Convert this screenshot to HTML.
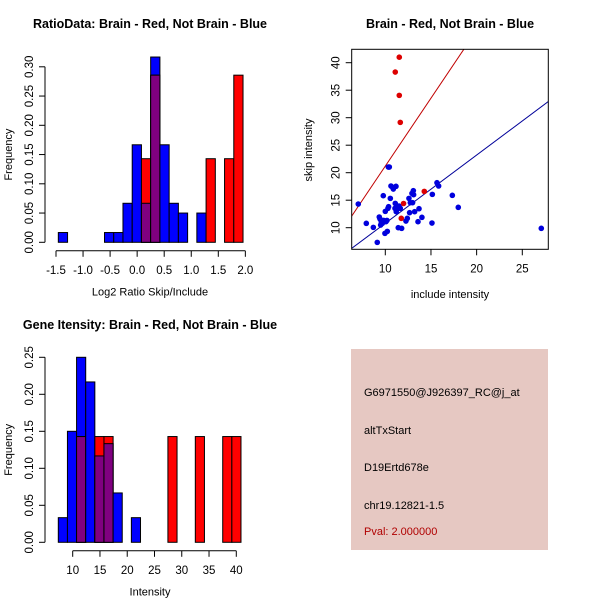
<!DOCTYPE html>
<html><head><meta charset="utf-8"><style>
body{margin:0;background:#fff}
svg{display:block;font-family:"Liberation Sans",sans-serif}
</style></head><body>
<svg id="c" width="600" height="600" viewBox="0 0 600 600">
<rect width="600" height="600" fill="#fff"/>
<text x="150" y="28" text-anchor="middle" font-size="12.5" font-weight="bold">RatioData: Brain - Red, Not Brain - Blue</text>
<text x="450" y="28" text-anchor="middle" font-size="12.5" font-weight="bold">Brain - Red, Not Brain - Blue</text>
<text x="150" y="329" text-anchor="middle" font-size="12.5" font-weight="bold">Gene Itensity: Brain - Red, Not Brain - Blue</text>
<g id="g1"></g>
<g id="g2"></g>
<g id="g3"></g>
<g>
<rect x="351" y="349" width="197" height="201" fill="#e6c8c2"/>
<text x="364" y="396" font-size="11">G6971550@J926397_RC@j_at</text>
<text x="364" y="434" font-size="11">altTxStart</text>
<text x="364" y="471" font-size="11">D19Ertd678e</text>
<text x="364" y="509" font-size="11">chr19.12821-1.5</text>
<text x="364" y="535" font-size="11" fill="#b00000">Pval: 2.000000</text>
</g>
</svg>
<script>
// Ratio histogram data
const ratioBinStart = -1.457, ratioBinWidth = 0.1707;
const ratioBlue = [0.0167,0,0,0,0,0.0167,0.0167,0.0667,0.1667,0.0667,0.3167,0.1667,0.0667,0.05,0,0.05,0,0,0,0];
const ratioRed  = [0,0,0,0,0,0,0,0,0,0.1429,0.2857,0,0,0,0,0,0.1429,0,0.1429,0.2857];
const ratioXTicks = [-1.5,-1.0,-0.5,0.0,0.5,1.0,1.5,2.0];
const ratioYTicks = [0,0.05,0.10,0.15,0.20,0.25,0.30];
// Intensity histogram data
const intBinStart = 7.36, intBinWidth = 1.675;
const intBlue = [0.0333,0.15,0.25,0.2167,0.1167,0.1333,0.0667,0,0.0333,0,0,0,0,0,0,0,0,0,0,0];
const intRed  = [0,0,0.1429,0,0.1429,0.1429,0,0,0,0,0,0,0.1429,0,0,0.1429,0,0,0.1429,0.1429];
const intXTicks = [10,15,20,25,30,35,40];
const intYTicks = [0,0.05,0.10,0.15,0.20,0.25];
// Scatter data
const redX = [11.53,11.09,11.53,11.64,14.27,12.0,11.75];
const redY = [41.0,38.3,34.06,29.15,16.6,14.4,11.7];
const blueX = [7.04,7.92,8.69,9.12,9.34,9.42,9.56,9.49,9.67,9.78,9.82,9.96,10.0,10.07,10.18,10.22,10.29,10.33,10.36,10.44,10.55,10.62,10.80,10.88,11.06,11.09,11.17,11.20,11.35,11.42,11.50,11.64,11.79,12.26,12.41,12.59,12.66,12.74,12.92,12.99,13.07,13.10,13.21,13.58,13.69,14.01,15.11,15.15,15.66,15.84,17.34,17.99,27.08];
const blueY = [14.30,10.79,10.06,7.33,11.94,11.58,11.09,10.48,10.79,15.82,11.33,8.97,12.97,11.09,11.33,9.33,13.52,21.03,13.82,21.03,15.33,17.58,17.33,17.03,13.52,14.42,17.52,12.91,13.52,10.0,13.94,13.52,9.88,11.21,11.70,15.33,12.73,14.55,16.24,14.55,16.73,16.0,12.91,11.09,13.45,11.88,10.85,16.06,18.18,17.58,15.88,13.70,9.88];
const redLine = [-3.5, 2.47];   // intercept, slope
const blueLine = [-1.6, 1.24];
const scXTicks = [10,15,20,25];
const scYTicks = [10,15,20,25,30,35,40];

const NS='http://www.w3.org/2000/svg';
function mk(p,t,a){const e=document.createElementNS(NS,t);for(const k in a)e.setAttribute(k,a[k]);p.appendChild(e);return e;}

function hist(g,o){
  const sx=v=>o.x0+(v-o.xv0)*o.kx, sy=v=>o.y0-v*o.ky;
  for(let i=0;i<o.blue.length;i++){
    const a=o.bs+i*o.bw,b=a+o.bw,x=sx(a),w=sx(b)-x,bl=o.blue[i],rd=o.red[i],m=Math.min(bl,rd);
    if(bl>0){const r=mk(g,'rect',{x:x,y:sy(bl),width:w,height:sy(0)-sy(bl),fill:'#0000ff',stroke:'#000','stroke-width':1});
      
      }
    if(rd>0){const r=mk(g,'rect',{x:x,y:sy(rd),width:w,height:sy(0)-sy(rd),fill:'#ff0000',stroke:'#000','stroke-width':1});
      
      }
    if(m>0){const r=mk(g,'rect',{x:x,y:sy(m),width:w,height:sy(0)-sy(m),fill:'#800080',stroke:'#000','stroke-width':1});
      
      }
  }
  const xl=o.xt, ax=o.y0+8.5;
  const xa=mk(g,'path',{d:`M${sx(xl[0])},${ax}H${sx(xl[xl.length-1])}`,stroke:'#000',fill:'none'});
  
  
  xl.forEach(v=>{mk(g,'path',{d:`M${sx(v)},${ax}v6`,stroke:'#000'});
    const t=mk(g,'text',{x:sx(v),y:ax+23,'text-anchor':'middle','font-size':11.5});t.textContent=o.xf(v);
    
    });
  const yl=o.yt, yx=45;
  const ya=mk(g,'path',{d:`M${yx},${sy(yl[0])}V${sy(yl[yl.length-1])}`,stroke:'#000',fill:'none'});
  
  
  yl.forEach(v=>{mk(g,'path',{d:`M${yx},${sy(v)}h-6`,stroke:'#000'});
    const t=mk(g,'text',{x:0,y:0,'text-anchor':'middle','font-size':11.5,transform:`translate(${yx-12},${sy(v)}) rotate(-90)`});t.textContent=v.toFixed(2);
    
    });
  const t1=mk(g,'text',{x:150,y:o.y0+53,'text-anchor':'middle','font-size':11});t1.textContent=o.xlab;
  
  
  const t2=mk(g,'text',{x:0,y:0,'text-anchor':'middle','font-size':11,transform:`translate(12,${(sy(0)+sy(yl[yl.length-1]))/2}) rotate(-90)`});t2.textContent='Frequency';
  
  
}
hist(document.getElementById('g1'),{x0:56,xv0:-1.5,kx:54.1,y0:242.3,ky:585,bs:ratioBinStart,bw:ratioBinWidth,blue:ratioBlue,red:ratioRed,xt:ratioXTicks,yt:ratioYTicks,xf:v=>v.toFixed(1),xlab:'Log2 Ratio Skip/Include'});
hist(document.getElementById('g3'),{x0:72.7,xv0:10,kx:5.453,y0:542.3,ky:740,bs:intBinStart,bw:intBinWidth,blue:intBlue,red:intRed,xt:intXTicks,yt:intYTicks,xf:v=>String(v),xlab:'Intensity'});

// scatter
(function(){
  const g=document.getElementById('g2');
  const L=351.7,R=548.3,T=49.3,B=249.3;
  const sx=v=>385.3+(v-10)*9.133, sy=v=>227.7-(v-10)*5.5;
  const cp=mk(g,'clipPath',{id:'scClip'});mk(cp,'rect',{x:L,y:T,width:R-L,height:B-T});
  const xmin=(L-385.3)/9.133+10,xmax=(R-385.3)/9.133+10;
  [[redLine,'#c00000','red-fit-line'],[blueLine,'#000099','blue-fit-line']].forEach(([ln,c,n])=>{
    const p=mk(g,'line',{x1:sx(xmin),y1:sy(ln[0]+ln[1]*xmin),x2:sx(xmax),y2:sy(ln[0]+ln[1]*xmax),stroke:c,'stroke-width':1,'clip-path':'url(#scClip)'});
    
    
  });
  blueX.forEach((v,i)=>{const c=mk(g,'circle',{cx:sx(v),cy:sy(blueY[i]),r:2.8,fill:'#0000dd'});
    
    });
  redX.forEach((v,i)=>{const c=mk(g,'circle',{cx:sx(v),cy:sy(redY[i]),r:2.8,fill:'#dd0000'});
    
    });
  const bx=mk(g,'rect',{x:L,y:T,width:R-L,height:B-T,fill:'none',stroke:'#000'});
  
  
  scXTicks.forEach(v=>{mk(g,'path',{d:`M${sx(v)},${B}v6`,stroke:'#000'});
    const t=mk(g,'text',{x:sx(v),y:B+23,'text-anchor':'middle','font-size':11.5});t.textContent=v;
    
    });
  scYTicks.forEach(v=>{mk(g,'path',{d:`M${L},${sy(v)}h-6`,stroke:'#000'});
    const t=mk(g,'text',{x:0,y:0,'text-anchor':'middle','font-size':11.5,transform:`translate(${L-12},${sy(v)}) rotate(-90)`});t.textContent=v;
    
    });
  const t1=mk(g,'text',{x:450,y:298,'text-anchor':'middle','font-size':11});t1.textContent='include intensity';
  
  
  const t2=mk(g,'text',{x:0,y:0,'text-anchor':'middle','font-size':11,transform:'translate(312,150) rotate(-90)'});t2.textContent='skip intensity';
  
  
})();
</script>
</body></html>
